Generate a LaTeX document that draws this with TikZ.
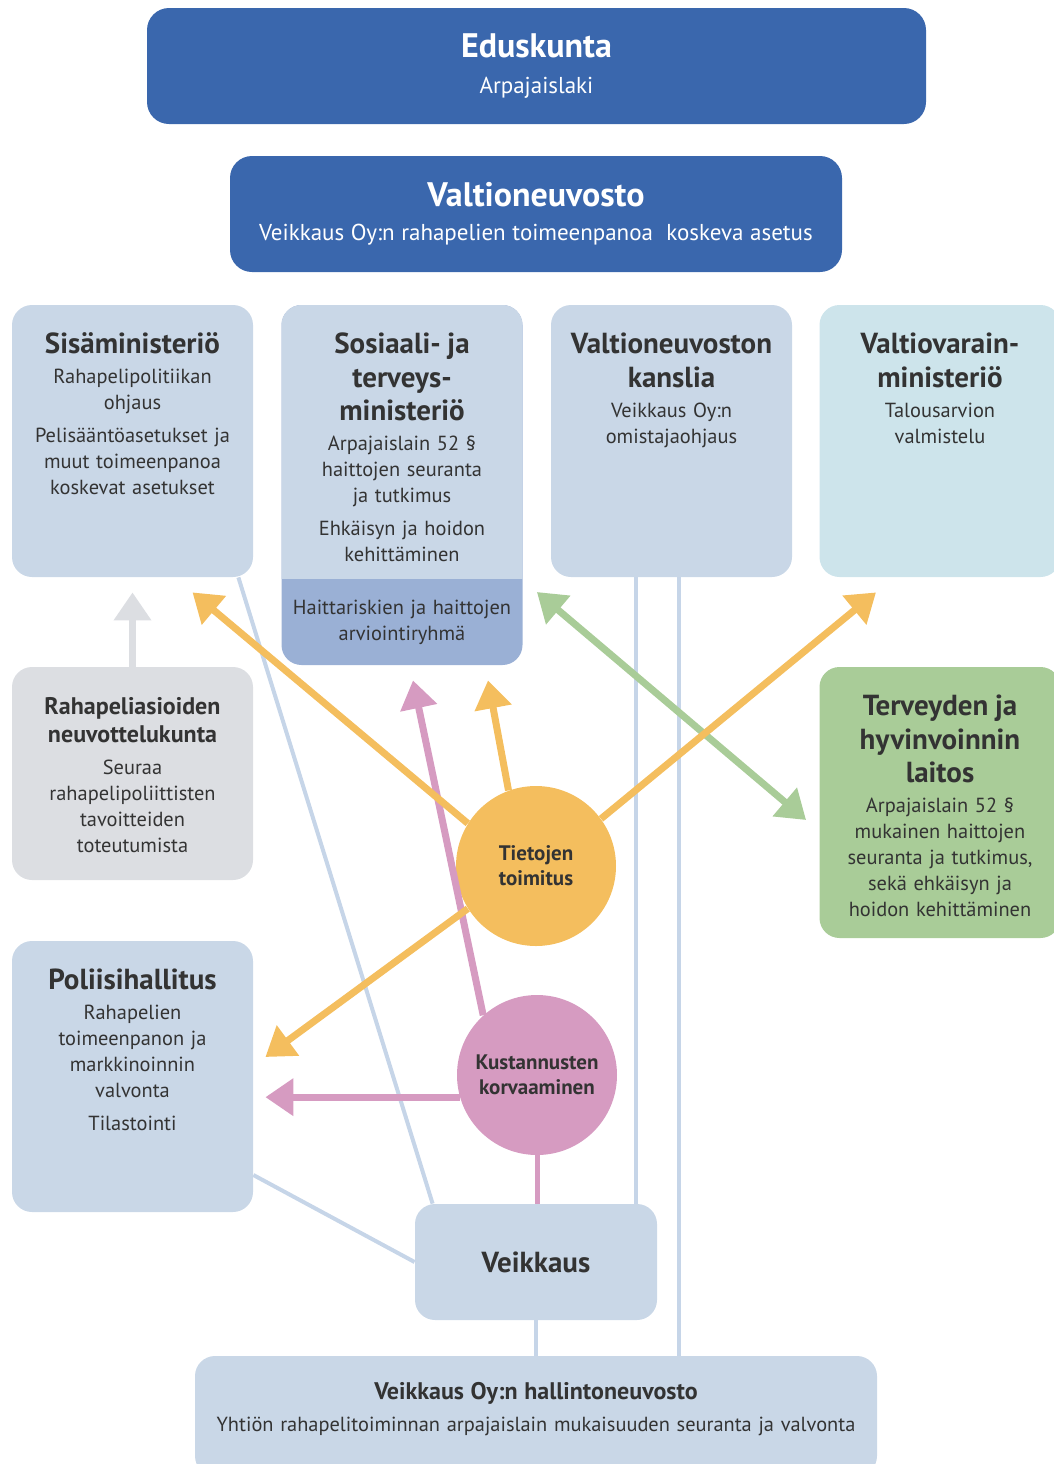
\documentclass[tikz,border=0pt]{standalone}
\usepackage{fontspec}
\setmainfont{PT Sans}
\usetikzlibrary{positioning, arrows.meta}
\definecolor{govblue}{HTML}{3A67AD}
\definecolor{panelblue}{HTML}{C9D7E7}
\definecolor{groupblue}{HTML}{9AB0D5}
\definecolor{budgetcyan}{HTML}{CDE4EB}
\definecolor{boardgrey}{HTML}{DCDEE2}
\definecolor{thlgreen}{HTML}{A9CC98}
\definecolor{dataorange}{HTML}{F4BE5E}
\definecolor{costpink}{HTML}{D69BC1}
\definecolor{linkblue}{HTML}{C6D5E8}
\definecolor{ink}{HTML}{333333}
\newcommand{\bigtitle}{\bfseries\fontsize{17}{20}\selectfont}
\newcommand{\boxtitle}{\bfseries\fontsize{14.5}{16.75}\selectfont}
\newcommand{\smalltitle}{\bfseries\fontsize{12}{14}\selectfont}
\newcommand{\boxbody}{\mdseries\fontsize{10.2}{13}\selectfont}
\tikzstyle{govbox} = [rectangle, rounded corners=11pt, fill=govblue, text=white, minimum height=58pt, align=center, inner sep=0pt]
\tikzstyle{panel} = [rectangle, rounded corners=10pt, fill=panelblue, minimum width=120.5pt]
\tikzstyle{paneltext} = [text width=118pt, align=center, inner sep=0pt, text=ink]
\tikzstyle{hub} = [circle, minimum size=80pt, inner sep=0pt, align=center, text=ink, font=\bfseries\fontsize{10.5}{12.5}\selectfont]
\tikzstyle{link} = [linkblue, line width=2pt]
\tikzstyle{flow} = [line width=3.5pt, -{Triangle[width=18pt, length=14pt]}]
\tikzstyle{twoway} = [line width=3.5pt, {Triangle[width=18pt, length=14pt]}-{Triangle[width=18pt, length=14pt]}]

\begin{document}
\begin{tikzpicture}[x=0.5pt, y=-0.5pt, node distance=10pt]
        \clip (0,0) rectangle (1054,1464);

        \node (edus) [govbox, minimum width=389.5pt, text width=380pt] at (536.5,66) {\bigtitle Eduskunta\par\vspace{4pt}\mdseries\fontsize{11.5}{14}\selectfont Arpajaislaki\par};
        \node (vn) [govbox, minimum width=306pt, text width=300pt] at (536,214) {\bigtitle Valtioneuvosto\par\vspace{3pt}\mdseries\fontsize{11.5}{14}\selectfont Veikkaus Oy:n rahapelien toimeenpanoa\ \ koskeva asetus\par};

        \node (sm) [panel, minimum height=136pt] at (132.5,441) {};
        \node (smtext) [paneltext, below=14pt of sm.north] {\boxtitle Sisäministeriö\par\vspace{2pt}\boxbody Rahapelipolitiikan\\ohjaus\par\vspace{3.5pt}Pelisääntöasetukset ja\\muut toimeenpanoa\\koskevat asetukset\par};

        \node (stm) [panel, fill=groupblue, minimum height=180pt] at (402,485) {};
        \begin{scope}
                \clip (stm.north west) rectangle ([yshift=43.5pt]stm.south east);
                \node (stmtop) [panel, minimum height=180pt] at (stm) {};
        \end{scope}
        \node (stmtext) [paneltext, below=14pt of stm.north] {\boxtitle Sosiaali- ja\\terveys-\\ministeriö\par\vspace{2pt}\boxbody Arpajaislain 52 §\\haittojen seuranta\\ja tutkimus\par\vspace{3.5pt}Ehkäisyn ja hoidon\\kehittäminen\par};
        \node (stmgroup) [paneltext, above=10pt of stm.south] {\boxbody Haittariskien ja haittojen\\arviointiryhmä\par};

        \node (kan) [panel, minimum height=136pt] at (671.5,441) {};
        \node (kantext) [paneltext, below=14pt of kan.north] {\boxtitle Valtioneuvoston\\kanslia\par\vspace{2pt}\boxbody Veikkaus Oy:n\\omistajaohjaus\par};

        \node (vvm) [panel, fill=budgetcyan, minimum height=136pt] at (940,441) {};
        \node (vvmtext) [paneltext, below=14pt of vvm.north] {\boxtitle Valtiovarain-\\ministeriö\par\vspace{2pt}\boxbody Talousarvion\\valmistelu\par};

        \node (rpn) [panel, fill=boardgrey, minimum height=106.5pt] at (132.5,773.5) {};
        \node (rpntext) [paneltext, below=15pt of rpn.north] {\smalltitle Rahapeliasioiden\\neuvottelukunta\par\vspace{3pt}\boxbody Seuraa\\rahapelipoliittisten\\tavoitteiden\\toteutumista\par};

        \node (thl) [panel, fill=thlgreen, minimum height=135.5pt] at (940,802.5) {};
        \node (thltext) [paneltext, below=14pt of thl.north] {\boxtitle Terveyden ja\\hyvinvoinnin\\laitos\par\vspace{2pt}\boxbody Arpajaislain 52 §\\mukainen haittojen\\seuranta ja tutkimus,\\sekä ehkäisyn ja\\hoidon kehittäminen\par};

        \node (poli) [panel, minimum height=135.5pt] at (132.5,1076.5) {};
        \node (politext) [paneltext, below=14pt of poli.north] {\boxtitle Poliisihallitus\par\vspace{2pt}\boxbody Rahapelien\\toimeenpanon ja\\markkinoinnin\\valvonta\par\vspace{3.5pt}Tilastointi\par};

        \node (veik) [panel, minimum width=121pt, minimum height=58pt, text=ink, font=\boxtitle] at (536,1262) {Veikkaus};

        \node (hall) [panel, minimum width=341pt, minimum height=60pt] at (536,1416) {};
        \node (halltext) [text width=336pt, align=center, inner sep=0pt, text=ink, below=13pt of hall.north] {\smalltitle Veikkaus Oy:n hallintoneuvosto\par\vspace{3pt}\boxbody Yhtiön rahapelitoiminnan arpajaislain mukaisuuden seuranta ja valvonta\par};

        \coordinate (kanleft) at ([xshift=-17.75pt]kan.south);
        \coordinate (kanright) at ([xshift=3.75pt]kan.south);
        \coordinate (polipay) at ([xshift=6pt]poli.east);
        \draw [link] ([xshift=-7.5pt]sm.south east) -- ([xshift=9pt]veik.north west);
        \draw [link] (kanleft) -- (kanleft |- veik.north);
        \draw [link] (kanright) -- (kanright |- hall.north);
        \draw [link] ([yshift=-49.25pt]poli.east) -- (veik.west);
        \draw [link] (veik.south) -- (veik.south |- hall.north);

        \node (tieto) [hub, fill=dataorange] at (536,866) {Tietojen\\toimitus};
        \node (kust) [hub, fill=costpink] at (537,1075) {Kustannusten\\korvaaminen};

        \draw [costpink, line width=2.5pt] (kust.south) -- (kust.south |- veik.north);
        \draw [flow, boardgrey] (rpn.north) -- ([yshift=-7.5pt]sm.south);
        \draw [flow, costpink] (kust.132) -- ([xshift=5.5pt,yshift=-7.5pt]stm.south);
        \draw [flow, costpink] (kust.196) -- (kust.196 -| polipay);
        \draw [flow, dataorange] (tieto.148) -- ([xshift=30pt,yshift=-7.5pt]sm.south);
        \draw [flow, dataorange] (tieto.110) -- ([xshift=43pt,yshift=-7.5pt]stm.south);
        \draw [flow, dataorange] (tieto.212) -- ([xshift=6pt,yshift=9.75pt]poli.east);
        \draw [twoway, thlgreen] ([xshift=7pt,yshift=-53.5pt]stm.east) -- ([xshift=-6.5pt,yshift=-8.75pt]thl.west);
        \draw [flow, dataorange] (tieto.36) -- ([xshift=-32pt,yshift=-7.5pt]vvm.south);
\end{tikzpicture}
\end{document}
